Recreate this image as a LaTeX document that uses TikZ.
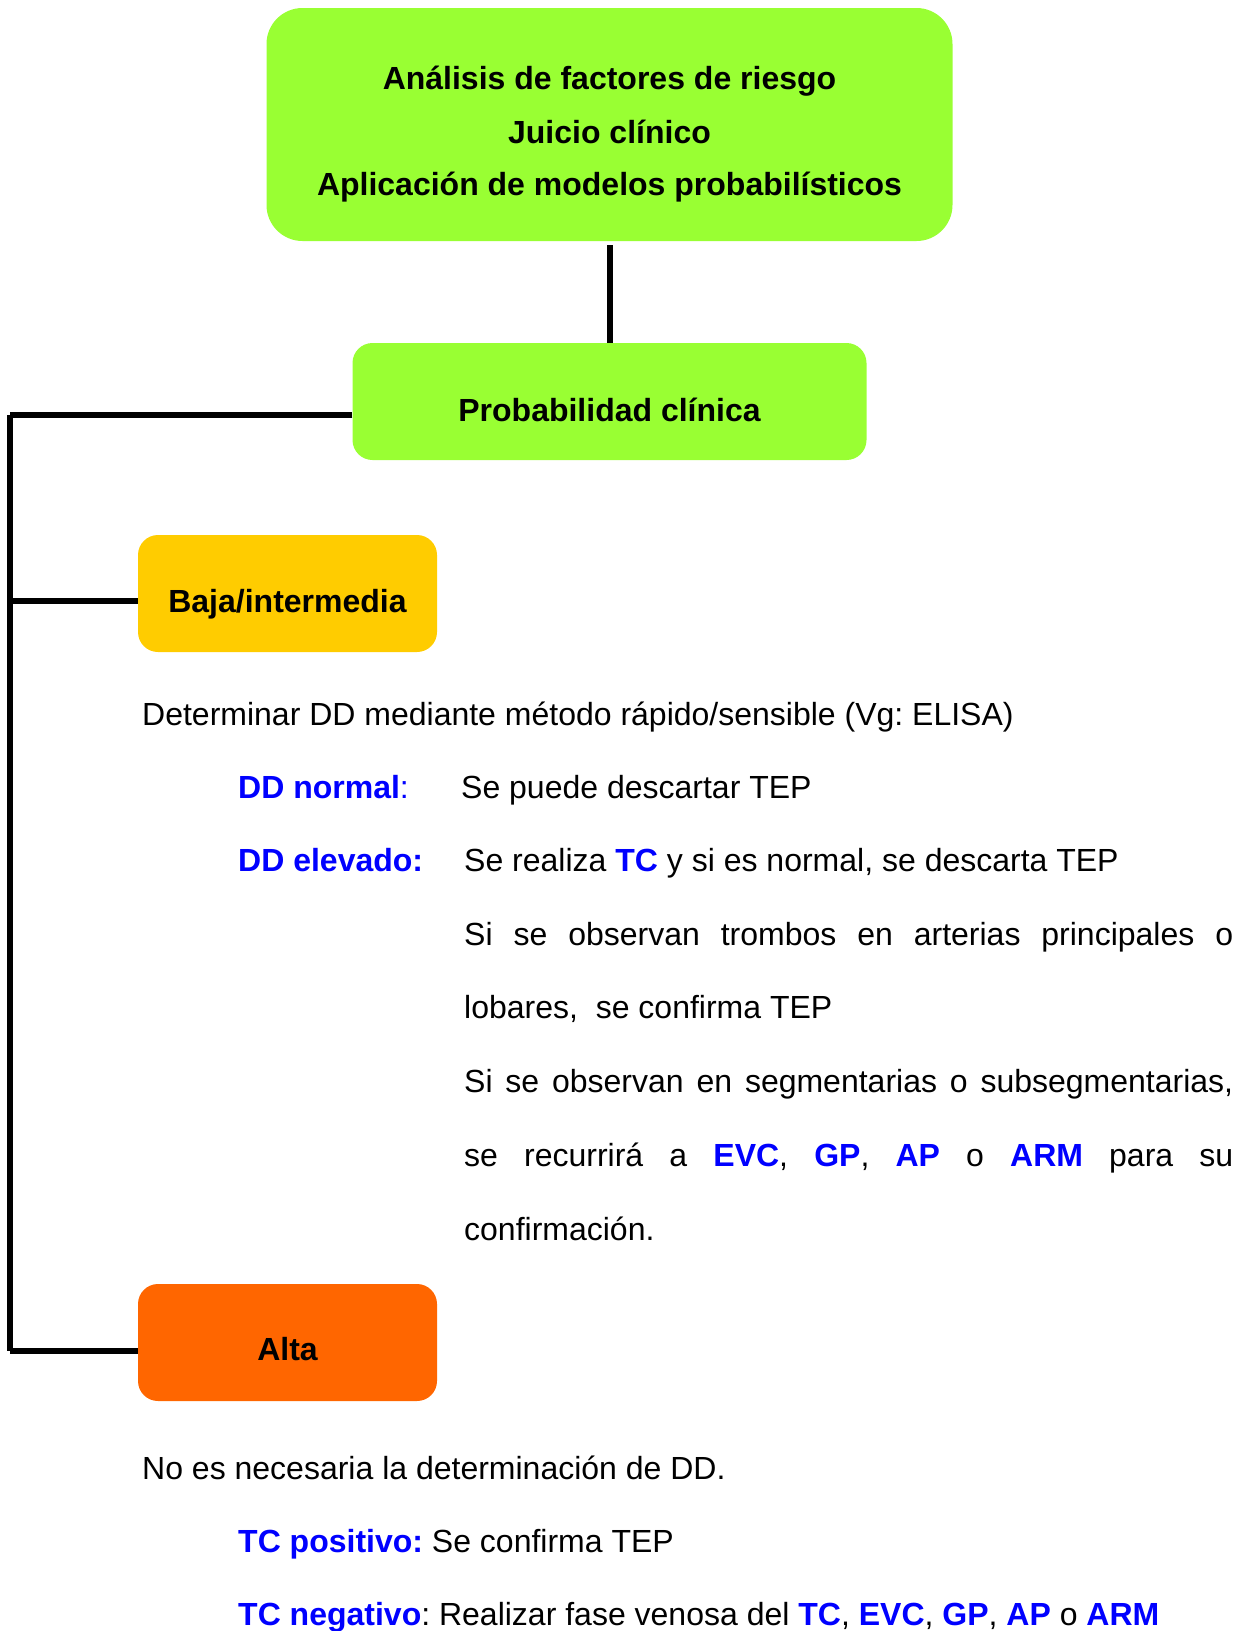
\documentclass[tikz,border=0pt]{standalone}
\usepackage{fontspec}
\setmainfont{Liberation Sans}
\frenchspacing
\definecolor{leafgreen}{HTML}{99FF33}
\definecolor{amber}{HTML}{FFCC00}
\definecolor{flame}{HTML}{FF6600}
\definecolor{termblue}{HTML}{0000FF}
\newcommand\term[1]{\textcolor{termblue}{\textbf{#1}}}
\newcommand\jline[1]{\makebox[769pt][s]{#1}}
\tikzset{
  stagebox/.style={draw=none, inner sep=0pt, rectangle},
  txt/.style={anchor=base west, inner sep=0pt},
  ctxt/.style={anchor=base, inner sep=0pt, font=\fontsize{32}{38}\selectfont\bfseries},
  conn/.style={line width=6pt, black, line cap=butt}
}
\begin{document}
\begin{tikzpicture}[x=1pt, y=-1pt, every node/.append style={font=\fontsize{32}{38}\selectfont}]
\useasboundingbox (0,0) rectangle (1246,1631);

% boxes
\node[stagebox, fill=leafgreen, rounded corners=36pt, minimum width=686pt, minimum height=233pt] (top) at (609.5,124.5) {};
\node[stagebox, fill=leafgreen, rounded corners=20pt, minimum width=514pt, minimum height=117pt] (prob) at (609.5,401.5) {};
\node[stagebox, fill=amber, rounded corners=20pt, minimum width=299pt, minimum height=117pt] (baja) at (287.5,593.5) {};
\node[stagebox, fill=flame, rounded corners=20pt, minimum width=299pt, minimum height=117pt] (alta) at (287.5,1342.5) {};

% box labels
\node[ctxt] (t1) at (609.5,89) {Análisis de factores de riesgo};
\node[ctxt] (t2) at (609.5,143) {Juicio clínico};
\node[ctxt] (t3) at (609.5,195) {Aplicación de modelos probabilísticos};
\node[ctxt] (tp) at (609.5,421) {Probabilidad clínica};
\node[ctxt] (tb) at (287.5,612) {Baja/intermedia};
\node[ctxt] (ta) at (287.5,1360) {Alta};

% connectors
\coordinate (railtop) at (10,415);
\coordinate (railmid) at (10,601);
\coordinate (railbot) at (10,1351);
\draw[conn] ([yshift=-4pt]top.south) -- (prob.north);
\draw[conn] (prob.west |- railtop) -- (railtop);
\draw[conn] (railtop) -- (railbot);
\draw[conn] (railbot) -- (alta.west |- railbot);
\draw[conn] (railmid) -- (railmid -| baja.west);

% low / intermediate probability
\node[txt] (d0) at (142,725) {Determinar DD mediante método rápido/sensible (Vg: ELISA)};
\node[txt] (d1a) at (238,798) {\textcolor{termblue}{\textbf{DD normal}:}};
\node[txt] (d1b) at (461,798) {Se puede descartar TEP};
\node[txt] (d2a) at (238,871) {\term{DD elevado:}};
\node[txt] (d2b) at (464,871) {Se realiza \term{TC} y si es normal, se descarta TEP};
\node[txt] (d3) at (464,945) {\jline{Si se observan trombos en arterias principales o}};
\node[txt] (d4) at (464,1018) {lobares,\ \ se confirma TEP};
\node[txt] (d5) at (464,1092) {\jline{Si se observan en segmentarias o subsegmentarias,}};
\node[txt] (d6) at (464,1166) {\jline{se recurrirá a \term{EVC}, \term{GP}, \term{AP} o \term{ARM} para su}};
\node[txt] (d7) at (464,1240) {confirmación.};

% high probability
\node[txt] (h0) at (142,1479) {No es necesaria la determinación de DD.};
\node[txt] (h1) at (238,1552) {\term{TC positivo:} Se confirma TEP};
\node[txt] (h2) at (238,1625) {\term{TC negativo}: Realizar fase venosa del \term{TC}, \term{EVC}, \term{GP}, \term{AP} o \term{ARM}};
\end{tikzpicture}
\end{document}
